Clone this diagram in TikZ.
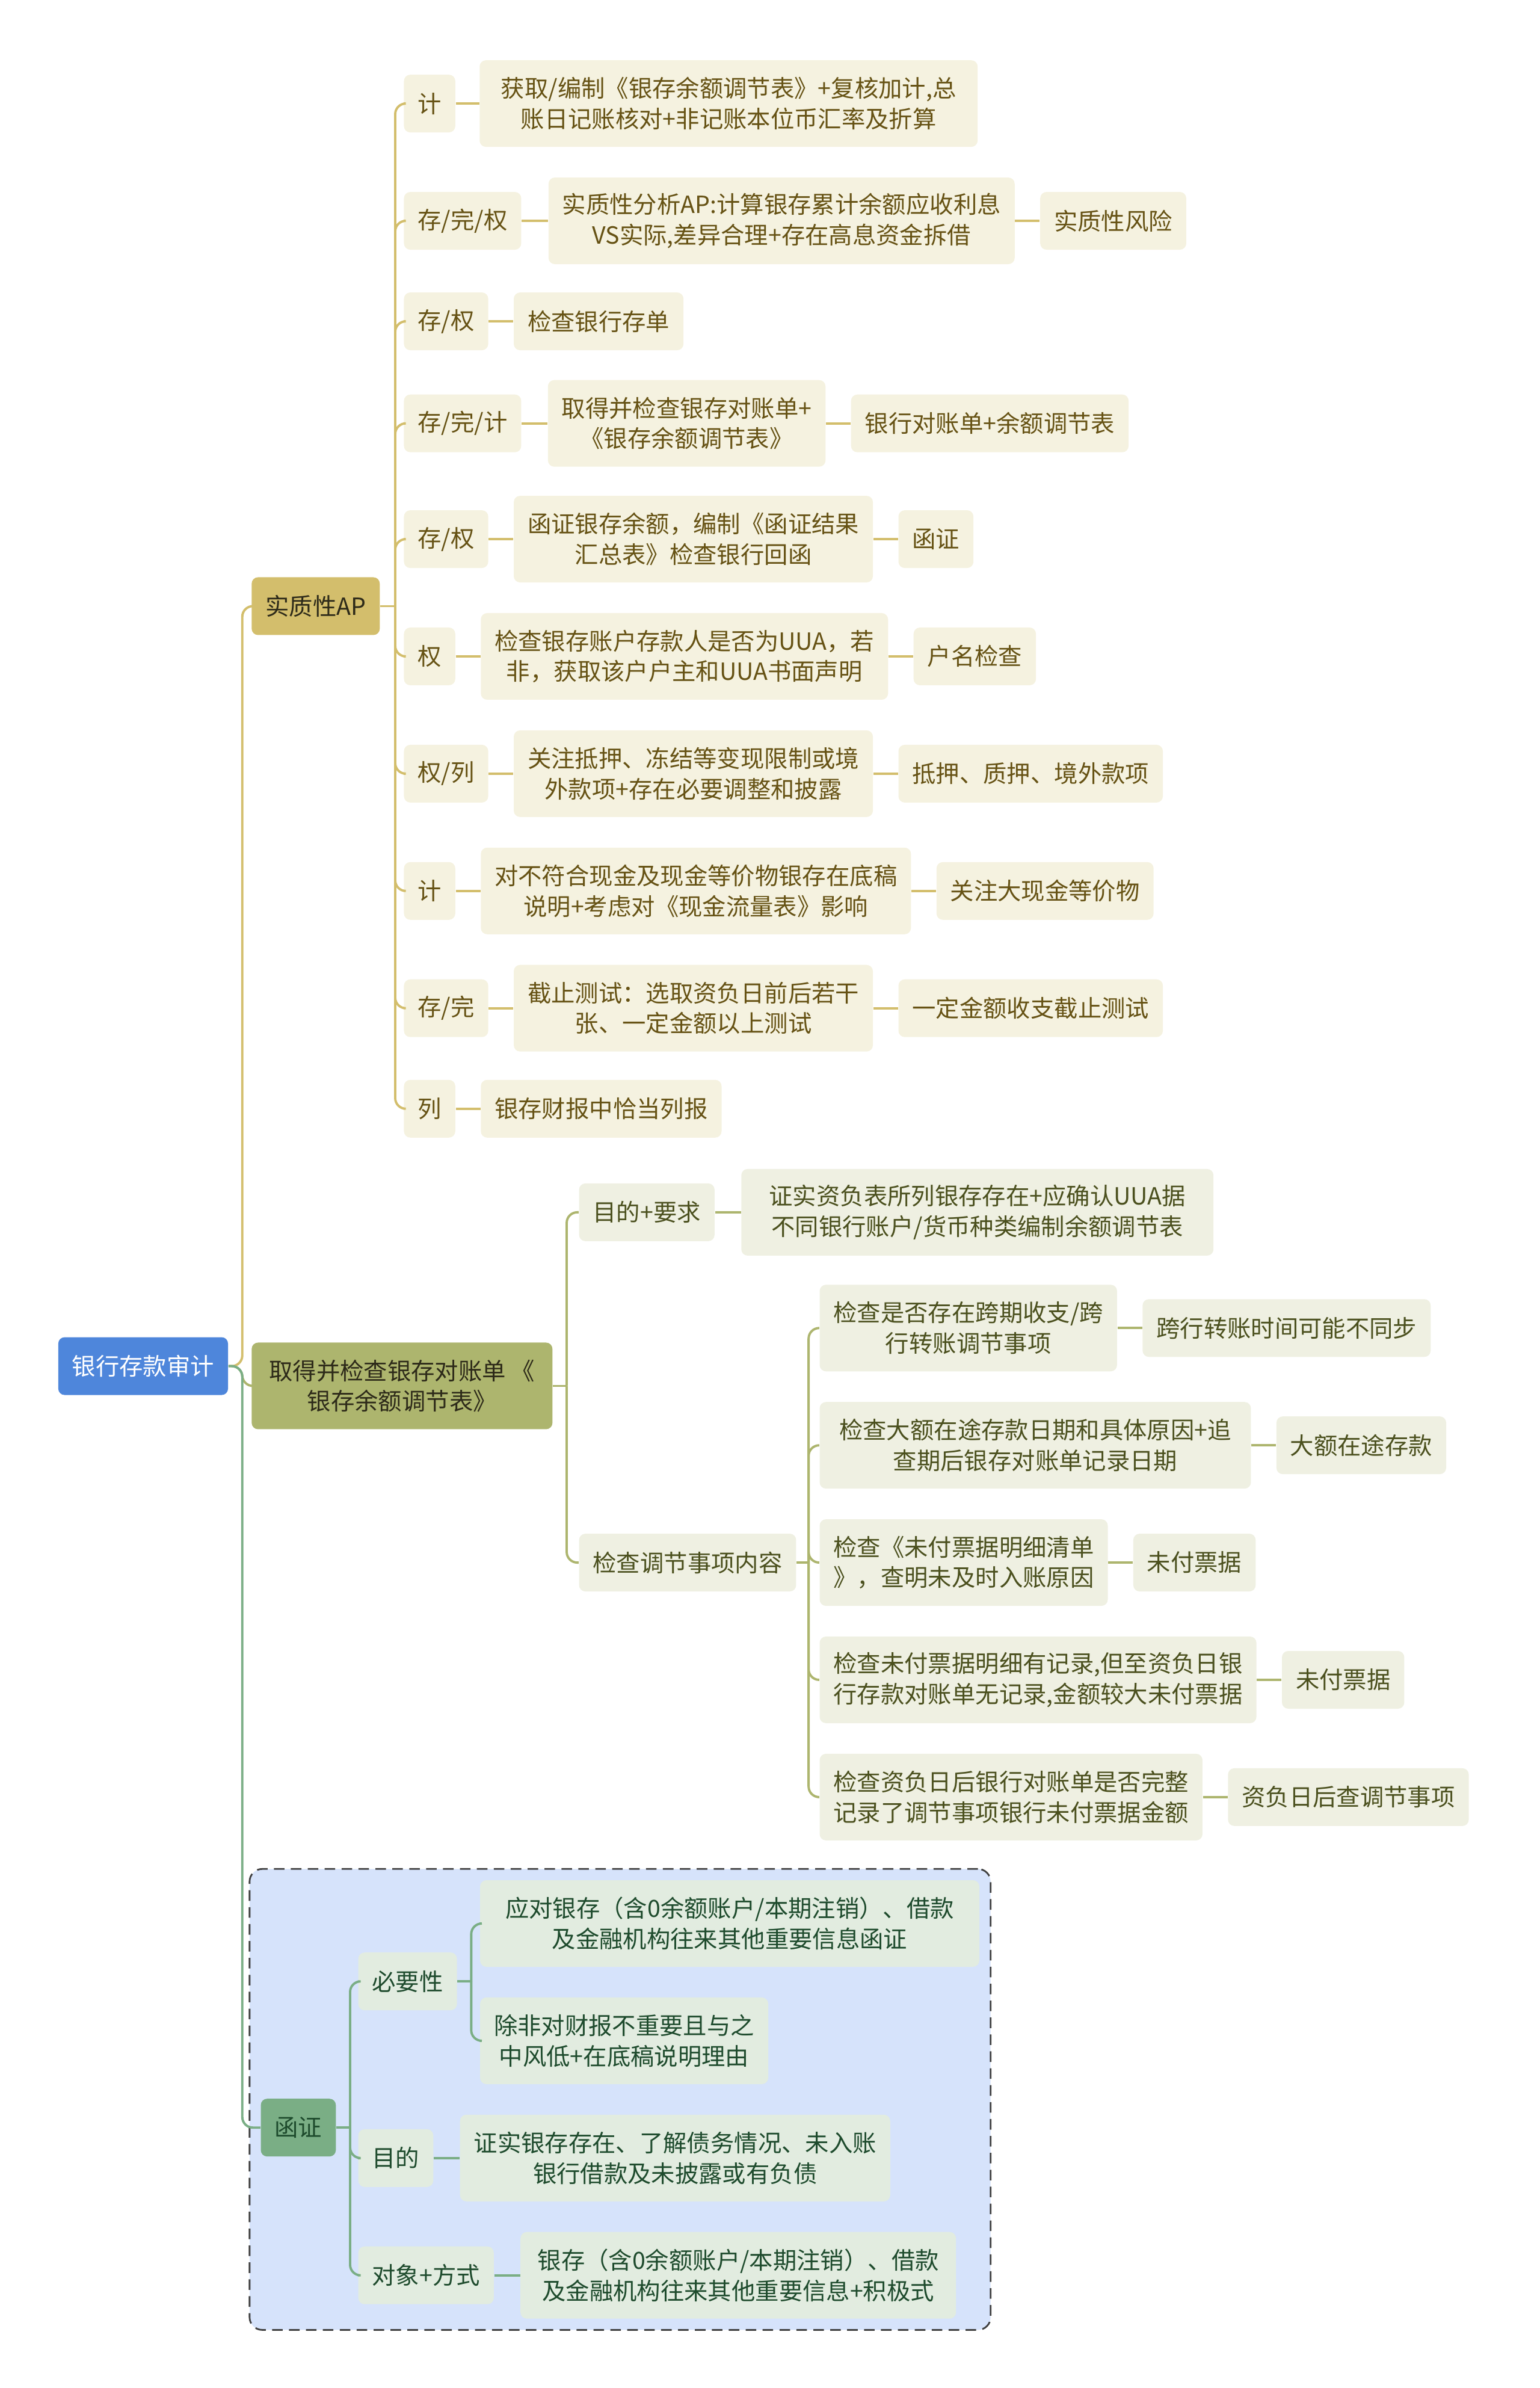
\documentclass[tikz,border=0pt]{standalone}
\usepackage{fontspec}
\setmainfont{Noto Sans CJK SC}
\usetikzlibrary{positioning,fit,backgrounds}
\definecolor{rootBlue}{RGB}{78,134,219}
\definecolor{mainInk}{RGB}{45,42,25}
\definecolor{apGold}{RGB}{211,190,108}
\definecolor{apLight}{RGB}{245,242,224}
\definecolor{apInk}{RGB}{102,82,20}
\definecolor{recOlive}{RGB}{173,181,110}
\definecolor{recLight}{RGB}{239,240,226}
\definecolor{recInk}{RGB}{75,80,30}
\definecolor{hzGreen}{RGB}{122,174,133}
\definecolor{hzLight}{RGB}{226,236,224}
\definecolor{hzInk}{RGB}{30,75,45}
\definecolor{hzBack}{RGB}{214,227,251}
\tikzset{
  box/.style={rounded corners=3pt,align=center,font=\fontsize{11.2}{14.4}\selectfont,inner xsep=2.3mm,inner ysep=1mm,minimum height=9.6mm},
  two/.style={minimum height=14.4mm},
  root node/.style={box,fill=rootBlue,text=white},
  ap head/.style={box,fill=apGold,text=mainInk},
  ap node/.style={box,fill=apLight,text=apInk},
  rec head/.style={box,fill=recOlive,text=mainInk},
  rec node/.style={box,fill=recLight,text=recInk},
  hz head/.style={box,fill=hzGreen,text=hzInk},
  hz node/.style={box,fill=hzLight,text=hzInk},
  hz frame/.style={draw=black!75,line width=0.8pt,dash pattern=on 5pt off 3pt,fill=hzBack,rounded corners=6pt,inner sep=1.8mm},
  ap line/.style={draw=apGold,line width=1.1pt,rounded corners=5pt},
  rec line/.style={draw=recOlive,line width=1.1pt,rounded corners=5pt},
  hz line/.style={draw=hzGreen,line width=1.1pt,rounded corners=5pt}
}
\begin{document}
\begin{tikzpicture}[x=0.02532cm,y=-0.02532cm]
  \useasboundingbox (0,0) rectangle (1011,1568);
  \node[root node,anchor=west] (root) at (38,897) {银行存款审计};
  \coordinate[right=2.3mm of root] (rootT);

  % 实质性AP
  \node[ap head,anchor=west] (ap) at (165,398) {实质性AP};
  \coordinate[right=2.5mm of ap] (apT);
  \node[ap node,anchor=west] (ap1) at (265,68) {计};
  \node[ap node,two,minimum width=8.28cm,right=3.9mm of ap1] (ap1a) {获取/编制《银存余额调节表》+复核加计,总\\账日记账核对+非记账本位币汇率及折算};
  \node[ap node,anchor=west] (ap2) at (265,145) {存/完/权};
  \node[ap node,two,right=4.4mm of ap2] (ap2a) {实质性分析AP:计算银存累计余额应收利息\\VS实际,差异合理+存在高息资金拆借};
  \node[ap node,right=4.1mm of ap2a] (ap2b) {实质性风险};
  \node[ap node,anchor=west] (ap3) at (265,211) {存/权};
  \node[ap node,right=4.1mm of ap3] (ap3a) {检查银行存单};
  \node[ap node,anchor=west] (ap4) at (265,278) {存/完/计};
  \node[ap node,two,right=4.3mm of ap4] (ap4a) {取得并检查银存对账单+\\《银存余额调节表》};
  \node[ap node,right=4.1mm of ap4a] (ap4b) {银行对账单+余额调节表};
  \node[ap node,anchor=west] (ap5) at (265,354) {存/权};
  \node[ap node,two,right=4.1mm of ap5] (ap5a) {函证银存余额，编制《函证结果\\汇总表》检查银行回函};
  \node[ap node,right=4.1mm of ap5a] (ap5b) {函证};
  \node[ap node,anchor=west] (ap6) at (265,431) {权};
  \node[ap node,two,right=4.1mm of ap6] (ap6a) {检查银存账户存款人是否为UUA，若\\非，获取该户户主和UUA书面声明};
  \node[ap node,right=4.1mm of ap6a] (ap6b) {户名检查};
  \node[ap node,anchor=west] (ap7) at (265,508) {权/列};
  \node[ap node,two,right=4.1mm of ap7] (ap7a) {关注抵押、冻结等变现限制或境\\外款项+存在必要调整和披露};
  \node[ap node,right=4.1mm of ap7a] (ap7b) {抵押、质押、境外款项};
  \node[ap node,anchor=west] (ap8) at (265,585) {计};
  \node[ap node,two,right=4.1mm of ap8] (ap8a) {对不符合现金及现金等价物银存在底稿\\说明+考虑对《现金流量表》影响};
  \node[ap node,right=4.1mm of ap8a] (ap8b) {关注大现金等价物};
  \node[ap node,anchor=west] (ap9) at (265,662) {存/完};
  \node[ap node,two,right=4.1mm of ap9] (ap9a) {截止测试：选取资负日前后若干\\张、一定金额以上测试};
  \node[ap node,right=4.1mm of ap9a] (ap9b) {一定金额收支截止测试};
  \node[ap node,anchor=west] (ap10) at (265,728) {列};
  \node[ap node,right=4.1mm of ap10] (ap10a) {银存财报中恰当列报};

  % 对账单 / 调节表
  \node[rec head,two,minimum width=5cm,anchor=west] (rec) at (165,910) {取得并检查银存对账单 《\\银存余额调节表》};
  \coordinate[right=2.3mm of rec] (recT);
  \node[rec node,anchor=west] (rec1) at (380,796) {目的+要求};
  \node[rec node,two,minimum width=7.85cm,right=4.3mm of rec1] (rec1a) {证实资负表所列银存存在+应确认UUA据\\不同银行账户/货币种类编制余额调节表};
  \node[rec node,anchor=west] (rec2) at (380,1026) {检查调节事项内容};
  \coordinate[right=2mm of rec2] (rec2T);
  \node[rec node,two,anchor=west] (chk1) at (538,872) {检查是否存在跨期收支/跨\\行转账调节事项};
  \node[rec node,right=4.1mm of chk1] (chk1a) {跨行转账时间可能不同步};
  \node[rec node,two,minimum width=7.17cm,anchor=west] (chk2) at (538,949) {检查大额在途存款日期和具体原因+追\\查期后银存对账单记录日期};
  \node[rec node,right=4.1mm of chk2] (chk2a) {大额在途存款};
  \node[rec node,two,anchor=west] (chk3) at (538,1026) {检查《未付票据明细清单\\》，查明未及时入账原因};
  \node[rec node,right=4.1mm of chk3] (chk3a) {未付票据};
  \node[rec node,two,anchor=west] (chk4) at (538,1103) {检查未付票据明细有记录,但至资负日银\\行存款对账单无记录,金额较大未付票据};
  \node[rec node,right=4.1mm of chk4] (chk4a) {未付票据};
  \node[rec node,two,anchor=west] (chk5) at (538,1180) {检查资负日后银行对账单是否完整\\记录了调节事项银行未付票据金额};
  \node[rec node,right=4.1mm of chk5] (chk5a) {资负日后查调节事项};

  % 函证
  \node[hz head,anchor=west] (hz) at (171,1397) {函证};
  \coordinate[right=2.3mm of hz] (hzT);
  \node[hz node,anchor=west] (nec) at (235,1301) {必要性};
  \coordinate[right=2.3mm of nec] (necT);
  \node[hz node,two,minimum width=8.3cm,anchor=west] (nec1) at (315,1263) {应对银存（含0余额账户/本期注销）、借款\\及金融机构往来其他重要信息函证};
  \node[hz node,two,anchor=west] (nec2) at (315,1340) {除非对财报不重要且与之\\中风低+在底稿说明理由};
  \node[hz node,anchor=west] (pur) at (235,1417) {目的};
  \node[hz node,two,right=4.3mm of pur] (pur1) {证实银存存在、了解债务情况、未入账\\银行借款及未披露或有负债};
  \node[hz node,anchor=west] (obj) at (235,1494) {对象+方式};
  \node[hz node,two,minimum width=7.24cm,right=4.3mm of obj] (obj1) {银存（含0余额账户/本期注销）、借款\\及金融机构往来其他重要信息+积极式};
  \begin{scope}[on background layer]
    \node[hz frame,fit=(hz)(nec1)(nec2)(pur1)(obj1)] (hzbox) {};
  \end{scope}

  % connectors
  \draw[ap line] (root.east) -- (rootT) |- (ap.west);
  \draw[rec line] (root.east) -- (rootT) |- (rec.west);
  \draw[hz line] (root.east) -- (rootT) |- (hz.west);

  \draw[ap line] (ap.east) -- (apT);
  \draw[ap line] (apT) |- (ap1.west);
  \draw[ap line] (apT) |- (ap2.west);
  \draw[ap line] (apT) |- (ap3.west);
  \draw[ap line] (apT) |- (ap4.west);
  \draw[ap line] (apT) |- (ap5.west);
  \draw[ap line] (apT) |- (ap6.west);
  \draw[ap line] (apT) |- (ap7.west);
  \draw[ap line] (apT) |- (ap8.west);
  \draw[ap line] (apT) |- (ap9.west);
  \draw[ap line] (apT) |- (ap10.west);
  \draw[ap line] (ap1.east) -- (ap1a.west);
  \draw[ap line] (ap2.east) -- (ap2a.west);
  \draw[ap line] (ap2a.east) -- (ap2b.west);
  \draw[ap line] (ap3.east) -- (ap3a.west);
  \draw[ap line] (ap4.east) -- (ap4a.west);
  \draw[ap line] (ap4a.east) -- (ap4b.west);
  \draw[ap line] (ap5.east) -- (ap5a.west);
  \draw[ap line] (ap5a.east) -- (ap5b.west);
  \draw[ap line] (ap6.east) -- (ap6a.west);
  \draw[ap line] (ap6a.east) -- (ap6b.west);
  \draw[ap line] (ap7.east) -- (ap7a.west);
  \draw[ap line] (ap7a.east) -- (ap7b.west);
  \draw[ap line] (ap8.east) -- (ap8a.west);
  \draw[ap line] (ap8a.east) -- (ap8b.west);
  \draw[ap line] (ap9.east) -- (ap9a.west);
  \draw[ap line] (ap9a.east) -- (ap9b.west);
  \draw[ap line] (ap10.east) -- (ap10a.west);

  \draw[rec line] (rec.east) -- (recT);
  \draw[rec line] (recT) |- (rec1.west);
  \draw[rec line] (recT) |- (rec2.west);
  \draw[rec line] (rec1.east) -- (rec1a.west);
  \draw[rec line] (rec2.east) -- (rec2T);
  \draw[rec line] (rec2T) |- (chk1.west);
  \draw[rec line] (rec2T) |- (chk2.west);
  \draw[rec line] (rec2T) |- (chk3.west);
  \draw[rec line] (rec2T) |- (chk4.west);
  \draw[rec line] (rec2T) |- (chk5.west);
  \draw[rec line] (chk1.east) -- (chk1a.west);
  \draw[rec line] (chk2.east) -- (chk2a.west);
  \draw[rec line] (chk3.east) -- (chk3a.west);
  \draw[rec line] (chk4.east) -- (chk4a.west);
  \draw[rec line] (chk5.east) -- (chk5a.west);

  \draw[hz line] (hz.east) -- (hzT);
  \draw[hz line] (hzT) |- (nec.west);
  \draw[hz line] (hzT) |- (pur.west);
  \draw[hz line] (hzT) |- (obj.west);
  \draw[hz line] (nec.east) -- (necT);
  \draw[hz line] (necT) |- (nec1.west);
  \draw[hz line] (necT) |- (nec2.west);
  \draw[hz line] (pur.east) -- (pur1.west);
  \draw[hz line] (obj.east) -- (obj1.west);
\end{tikzpicture}
\end{document}
